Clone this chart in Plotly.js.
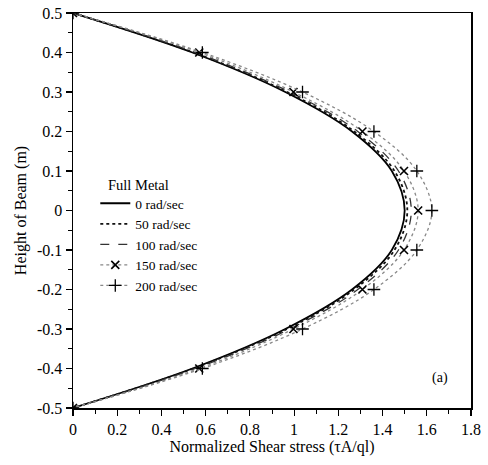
<!DOCTYPE html>
<html>
<head>
<meta charset="utf-8">
<script src="https://cdn.plot.ly/plotly-3.0.1.min.js"></script>
<style>html,body{margin:0;padding:0;background:#fff;}#chart{width:488px;height:465px;}</style>
</head>
<body>
<div id="chart"></div>
<script>
// Height of beam (m)
const heights = [0.5, 0.4, 0.3, 0.2, 0.1, 0, -0.1, -0.2, -0.3, -0.4, -0.5];
// Normalized shear stress for each rotational speed (Full Metal)
const shear0   = [0, 0.540, 0.960, 1.262, 1.442, 1.500, 1.442, 1.262, 0.960, 0.540, 0];
const shear50  = [0, 0.545, 0.968, 1.272, 1.454, 1.512, 1.454, 1.272, 0.968, 0.545, 0];
const shear100 = [0, 0.553, 0.980, 1.288, 1.472, 1.530, 1.472, 1.288, 0.980, 0.553, 0];
const shear150 = [0, 0.571, 0.997, 1.309, 1.497, 1.561, 1.497, 1.309, 0.997, 0.571, 0];
const shear200 = [0, 0.585, 1.038, 1.361, 1.555, 1.623, 1.555, 1.361, 1.038, 0.585, 0];
const seriesNames = ["0 rad/sec", "50 rad/sec", "100 rad/sec", "150 rad/sec", "200 rad/sec"];
const legendTitle = "Full Metal";
const xTicks = [0, 0.2, 0.4, 0.6, 0.8, 1, 1.2, 1.4, 1.6, 1.8];
const yTicks = [0.5, 0.4, 0.3, 0.2, 0.1, 0, -0.1, -0.2, -0.3, -0.4, -0.5];

const serif = "Liberation Serif, Times New Roman, serif";
const traces = [
  {x: shear0, y: heights, name: seriesNames[0], mode: "lines",
   line: {color: "#000", width: 1.8, dash: "solid", shape: "spline"}},
  {x: shear50, y: heights, name: seriesNames[1], mode: "lines",
   line: {color: "#111", width: 1.8, dash: "dot", shape: "spline"}},
  {x: shear100, y: heights, name: seriesNames[2], mode: "lines",
   line: {color: "#333", width: 1.3, dash: "dash", shape: "spline"}},
  {x: shear150, y: heights, name: seriesNames[3], mode: "lines+markers",
   line: {color: "#888", width: 1.3, dash: "dot", shape: "spline"},
   marker: {symbol: "x-thin", size: 8, color: "#000", line: {color: "#000", width: 1.6}}},
  {x: shear200, y: heights, name: seriesNames[4], mode: "lines+markers",
   line: {color: "#888", width: 1.3, dash: "dot", shape: "spline"},
   marker: {symbol: "cross-thin", size: 9, color: "#000", line: {color: "#000", width: 1.3}}}
];

const layout = {
  width: 488, height: 465,
  margin: {l: 73, r: 17, t: 13, b: 57},
  paper_bgcolor: "#fff", plot_bgcolor: "#fff",
  font: {family: serif, size: 16, color: "#000"},
  showlegend: true,
  legend: {
    x: 0.056, y: 0.557, xanchor: "left", yanchor: "top",
    bgcolor: "rgba(0,0,0,0)", borderwidth: 0,
    font: {family: serif, size: 13.5, color: "#000"},
    tracegroupgap: 0
  },
  xaxis: {
    range: [0, 1.8], tickvals: xTicks, ticktext: xTicks.map(String),
    ticks: "outside", ticklen: 6, tickwidth: 1.2, tickcolor: "#000",
    minor: {dtick: 0.1, ticks: "outside", ticklen: 4, tickwidth: 1, tickcolor: "#000"},
    showgrid: false, zeroline: false,
    showline: true, linecolor: "#000", linewidth: 1.5, mirror: true,
    tickfont: {family: serif, size: 16},
    title: {text: "Normalized Shear stress (τA/ql)", font: {family: serif, size: 16}, standoff: 2}
  },
  yaxis: {
    range: [-0.5, 0.5], tickvals: yTicks, ticktext: yTicks.map(String),
    ticks: "outside", ticklen: 6, tickwidth: 1.2, tickcolor: "#000",
    minor: {dtick: 0.05, ticks: "outside", ticklen: 4, tickwidth: 1, tickcolor: "#000"},
    showgrid: false, zeroline: false,
    showline: true, linecolor: "#000", linewidth: 1.5, mirror: true,
    tickfont: {family: serif, size: 16},
    title: {text: "Height of Beam (m)", font: {family: serif, size: 16}, standoff: 6}
  },
  annotations: [
    {x: 1.66, y: -0.424, xref: "x", yref: "y", text: "(a)", showarrow: false,
     font: {family: serif, size: 14, color: "#000"}},
    {x: 0.083, y: 1 - (185 - 13) / 395, xref: "paper", yref: "paper", xanchor: "left", yanchor: "middle",
     text: legendTitle, showarrow: false, font: {family: serif, size: 14.5, color: "#000"}}
  ]
};

Plotly.newPlot("chart", traces, layout, {displayModeBar: false, staticPlot: true});
</script>
</body>
</html>
